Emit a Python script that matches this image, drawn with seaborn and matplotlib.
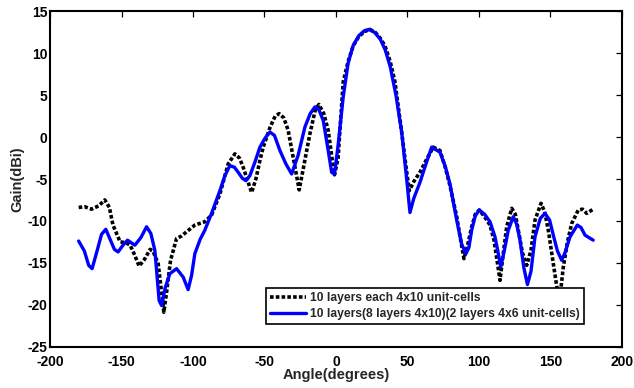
import numpy as np
import pandas as pd
import matplotlib
matplotlib.use("Agg")
import matplotlib.pyplot as plt
import seaborn as sns

# Series 1: 10 layers each 4x10 unit-cells (black dotted)
ang1 = [-180, -176, -171, -166, -161.7, -158.5, -156, -151, -147, -144, -141, -137.7, -134, -130, -128,
        -124.4, -122, -120.4, -118.5, -115.7, -111.5, -108, -104.5, -98.7, -91.7, -87, -81.2, -75.4,
        -70.7, -67.5, -64.9, -61, -59, -56, -53.2, -50.9, -46, -42.5, -39.7, -36.5, -33.4, -29.5, -25.7,
        -22, -18.2, -14.5, -11.9, -8.5, -5.4, -2.5, -1.0, 1.5, 5.1, 8.5, 12.1, 16, 20, 23.8, 27.5, 31,
        34.3, 38, 41.3, 46, 49, 51.3, 54.5, 58.8, 63, 68.1, 72.8, 76.5, 79.8, 84.5, 87.5, 89.6, 92,
        95, 97.5, 100.3, 104, 107.8, 110.6, 113, 114.8, 117, 119.5, 123, 125.5, 127.6, 130.5, 133.5,
        136.5, 139.3, 143.5, 146, 148.6, 152.1, 154.5, 156.5, 159.1, 162, 165, 169.6, 172.5, 175.5, 180]
gain1 = [-8.4, -8.3, -8.6, -8.2, -7.5, -8.4, -10.5, -12.5, -12.6, -12.9, -14.0, -15.4, -14.6, -13.4, -13.6,
         -15.1, -18.5, -20.9, -18.5, -14.7, -12.1, -11.8, -11.3, -10.5, -10.1, -9.3, -6.8, -3.2,
         -2.0, -2.5, -3.6, -5.6, -6.6, -5.0, -2.8, -1.2, 1.2, 2.5, 2.8, 2.3, 0.8, -2.8, -6.3,
         -3.0, 0.4, 3.2, 3.9, 2.8, 0.8, -2.8, -4.5, -2.5, 6.6, 9.0, 10.9, 12.0, 12.6, 12.85, 12.5, 11.8,
         10.9, 9.0, 6.6, 0.6, -3.5, -6.4, -5.3, -4.2, -2.8, -1.2, -1.6, -3.6, -5.8, -9.5, -12.5, -14.5, -13.0,
         -10.7, -9.2, -8.7, -9.5, -10.5, -12.3, -15.0, -17.1, -14.0, -10.7, -8.5, -9.2, -11.1, -13.8, -15.3,
         -13.5, -9.9, -7.9, -8.9, -11.1, -15.1, -17.8, -19.5, -15.5, -12.5, -10.3, -8.7, -8.6, -9.1, -8.6]

# Series 2: 10 layers(8 layers 4x10)(2 layers 4x6 unit-cells) (blue solid)
ang2 = [-180, -176, -173, -170.6, -167, -164, -161, -158, -155, -152.4, -149, -145.8, -140.7, -136.5,
        -132.5, -129.5, -126.7, -123.7, -122, -119.5, -116.2, -111.5, -106.9, -103.4, -101, -98.7, -95,
        -91.7, -87, -81.2, -77.7, -74.2, -71, -68.4, -65.5, -63, -60.2, -56.5, -53.2, -49.5, -46.2, -43,
        -39.2, -35, -31, -26.5, -21.7, -18, -14.7, -12, -8.9, -5.5, -3.0, -1.0, 1.5, 5.1, 8.5, 12, 16,
        20, 23.1, 27, 31, 34.5, 38, 42, 46, 49.5, 51.8, 54.5, 58.8, 63, 67, 72.8, 76.5, 79.8, 84.5, 88,
        91, 93, 95, 97.5, 100.3, 104, 107.8, 111.3, 113.5, 115.3, 118, 120.6, 124.1, 126.5, 128.8, 131.5,
        134, 136.5, 139.3, 143, 146.3, 149.5, 152.1, 155, 158, 160.5, 163.8, 168.9, 171.5, 174.3, 180]
gain2 = [-12.4, -13.6, -15.3, -15.7, -13.5, -11.6, -11.0, -12.2, -13.4, -13.7, -12.9, -12.3, -12.9, -12.0,
         -10.7, -11.5, -13.5, -19.5, -20.1, -18.0, -16.3, -15.7, -16.7, -18.2, -16.5, -13.9, -12.2,
         -11.1, -9.1, -6.4, -4.6, -3.4, -3.6, -4.2, -4.9, -5.2, -4.6, -2.9, -1.2, -0.1, 0.6, 0.2,
         -1.6, -3.2, -4.4, -2.2, 1.2, 2.8, 3.6, 3.3, 2.0, -1.5, -4.2, -4.4, -1.0, 4.8, 8.8, 10.9, 12.1,
         12.7, 12.85, 12.5, 11.7, 10.4, 8.4, 5.0, 0.6, -5.0, -9.0, -7.3, -5.4, -3.2, -1.2, -1.8, -3.5,
         -5.6, -9.9, -12.8, -13.9, -13.2, -11.1, -9.4, -8.7, -9.2, -10.1, -11.9, -13.8, -15.5, -13.4,
         -11.1, -9.5, -10.4, -12.3, -15.6, -17.6, -16.0, -11.9, -9.7, -9.1, -9.9, -11.7, -13.6, -14.7,
         -13.7, -11.9, -10.5, -10.8, -11.7, -12.3]

label1 = "10 layers each 4x10 unit-cells"
label2 = "10 layers(8 layers 4x10)(2 layers 4x6 unit-cells)"
xticks = [-200, -150, -100, -50, 0, 50, 100, 150, 200]
yticks = [-25, -20, -15, -10, -5, 0, 5, 10, 15]

sns.set_style("white")
plt.rcParams["font.family"] = ["Liberation Sans", "DejaVu Sans"]
plt.rcParams["font.weight"] = "bold"
plt.rcParams["axes.unicode_minus"] = False

fig = plt.figure(figsize=(6.34, 3.88), dpi=100)
ax = fig.add_axes([0.079, 0.1067, 0.9017, 0.8639])

df1 = pd.DataFrame({"Angle": ang1, "Gain": gain1})
df2 = pd.DataFrame({"Angle": ang2, "Gain": gain2})
sns.lineplot(data=df1, x="Angle", y="Gain", ax=ax, color="black", linestyle=(0, (1, 0.6)),
             linewidth=2.6, label=label1, sort=False)
sns.lineplot(data=df2, x="Angle", y="Gain", ax=ax, color="#0000ff", linestyle="-",
             linewidth=2.4, label=label2, sort=False)

ax.set_xlim(-200, 200)
ax.set_ylim(-25, 15)
ax.set_xticks(xticks)
ax.set_yticks(yticks)
ax.tick_params(direction="in", length=4, width=0.9, top=True, right=True, labelsize=10,
               colors="black")
ax.tick_params(axis="x", pad=6)
ax.tick_params(axis="y", pad=2)
for lab in ax.get_xticklabels() + ax.get_yticklabels():
    lab.set_fontweight("bold")
for s in ax.spines.values():
    s.set_color("black")
    s.set_linewidth(1.5)
ax.set_xlabel("Angle(degrees)", fontsize=10.5, fontweight="bold", labelpad=-1)
ax.set_ylabel("Gain(dBi)", fontsize=10.5, fontweight="bold", labelpad=2)

leg = ax.legend(loc="lower right", bbox_to_anchor=(0.9346, 0.0665), borderaxespad=0,
                frameon=True, fancybox=False, framealpha=1, edgecolor="black",
                prop={"weight": "bold", "size": 8.7}, handlelength=3.0, handletextpad=0.35,
                borderpad=0.35, labelspacing=0.35)
leg.get_frame().set_linewidth(1.2)

fig.savefig("out.png", dpi=100, facecolor="white")
